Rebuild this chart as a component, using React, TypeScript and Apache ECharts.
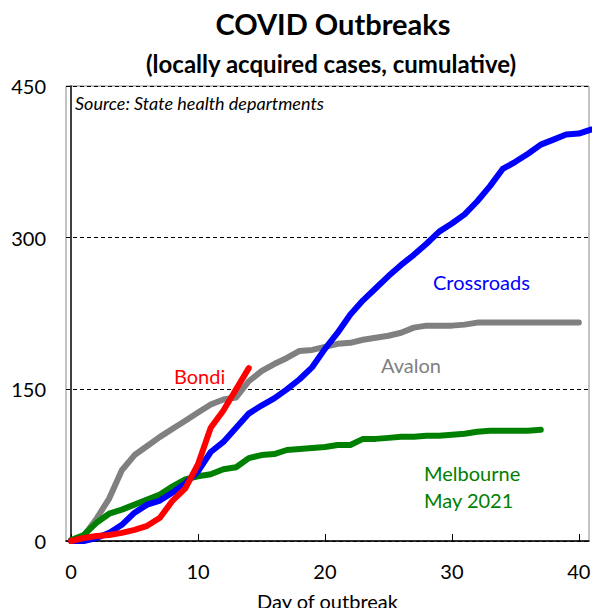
import React, { useEffect, useRef } from "react";
import * as echarts from "echarts";

const crossroads = [0, 0, 3, 8, 16, 28, 36, 40, 48, 57, 69, 88, 98, 112, 126, 134, 141, 150, 160, 172, 190, 206, 224, 238, 250, 262, 273, 283, 294, 306, 314, 323, 336, 351, 368, 375, 383, 392, 397, 402, 403, 407];
const avalon = [0, 5, 22, 42, 70, 85, 94, 103, 111, 119, 127, 135, 140, 142, 158, 168, 175, 181, 188, 189, 192, 195, 196, 199, 201, 203, 206, 211, 213, 213, 213, 214, 216, 216, 216, 216, 216, 216, 216, 216, 216];
const bondi = [0, 3, 5, 6, 8, 11, 15, 23, 40, 52, 76, 112, 129, 150, 171];
const melbourne = [1, 6, 18, 27, 31, 36, 41, 46, 54, 61, 64, 66, 71, 73, 82, 85, 86, 90, 91, 92, 93, 95, 95, 101, 101, 102, 103, 103, 104, 104, 105, 106, 108, 109, 109, 109, 109, 110];
const xTicks = [0, 10, 20, 30, 40];

const toPairs = (arr: number[]) => arr.map((v, i) => [i, v]);

const FONT = "Lato";

export default function App() {
  const ref = useRef<HTMLDivElement>(null);
  useEffect(() => {
    if (!ref.current) return;
    const chart = echarts.init(ref.current, null, { renderer: "svg" });
    const lineSeries = (name: string, data: number[], color: string) => ({
      name,
      type: "line",
      data: toPairs(data),
      showSymbol: false,
      symbol: "none",
      clip: true,
      lineStyle: { color, width: 6, cap: "round", join: "round" },
      itemStyle: { color },
    });
    chart.setOption({
      animation: false,
      backgroundColor: "#ffffff",
      textStyle: { fontFamily: FONT },
      title: [
        {
          text: "COVID Outbreaks",
          left: 328,
          top: 4,
          textAlign: "center",
          textStyle: { fontFamily: FONT, fontSize: 29, fontWeight: "bold", color: "#000" },
        },
        {
          text: "(locally acquired cases, cumulative)",
          left: 326,
          top: 46,
          textAlign: "center",
          textStyle: { fontFamily: FONT, fontSize: 24, fontWeight: "bold", color: "#000" },
        },
      ],
      grid: {
        left: 66,
        top: 86,
        right: 8,
        bottom: 67,
        outerBoundsMode: "none",
        containLabel: false,
        show: true,
        borderColor: "#888",
        borderWidth: 1,
      },
      xAxis: {
        type: "value",
        min: -0.4,
        max: 40.8,
        name: "Day of outbreak",
        nameLocation: "middle",
        nameGap: 50,
        nameTextStyle: { fontFamily: FONT, fontSize: 20, color: "#000" },
        axisLine: { show: true, lineStyle: { color: "#000", width: 1.5 } },
        axisTick: { show: true, inside: true, length: 7, customValues: xTicks, lineStyle: { color: "#000" } },
        axisLabel: { customValues: xTicks, fontFamily: FONT, fontSize: 20, color: "#000", margin: 20 },
        splitLine: { show: false },
      },
      yAxis: {
        type: "value",
        min: 0,
        max: 450,
        interval: 150,
        axisLine: { show: true, lineStyle: { color: "#000", width: 1.5 } },
        axisTick: { show: false },
        axisLabel: { fontFamily: FONT, fontSize: 20, color: "#000", margin: 20 },
        splitLine: { show: true, lineStyle: { color: "#000", type: [4, 3], width: 1 } },
      },
      graphic: [
        {
          type: "text",
          left: 75,
          top: 94,
          style: { text: "Source: State health departments", font: `italic 18px ${FONT}`, fill: "#000" },
        },
        { type: "text", left: 433, top: 272, style: { text: "Crossroads", font: `20px ${FONT}`, fill: "#0000ff" } },
        { type: "text", left: 174, top: 366, style: { text: "Bondi", font: `20px ${FONT}`, fill: "#ff0000" } },
        { type: "text", left: 381, top: 355, style: { text: "Avalon", font: `20px ${FONT}`, fill: "#808080" } },
        {
          type: "text",
          left: 424,
          top: 459,
          style: { text: "Melbourne\nMay 2021", font: `20px ${FONT}`, lineHeight: 27, fill: "#008000" },
        },
      ],
      series: [
        lineSeries("Avalon", avalon, "#808080"),
        lineSeries("Melbourne May 2021", melbourne, "#008000"),
        lineSeries("Crossroads", crossroads, "#0000ff"),
        lineSeries("Bondi", bondi, "#ff0000"),
      ],
    });
    return () => chart.dispose();
  }, []);
  return <div ref={ref} style={{ width: 597, height: 608, position: "absolute", left: 0, top: 0 }} />;
}
